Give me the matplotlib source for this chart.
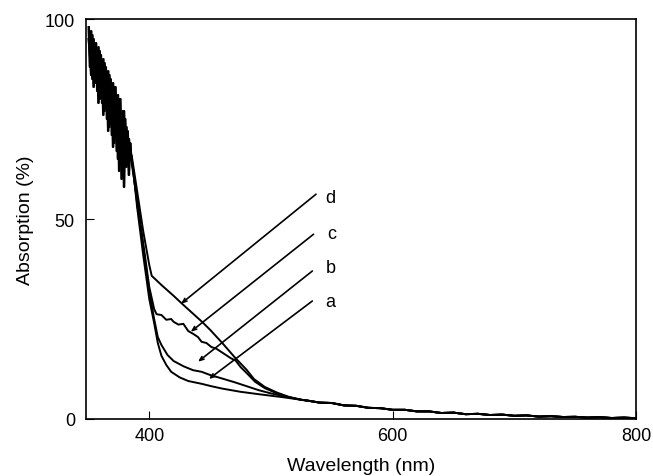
import numpy as np
import matplotlib
matplotlib.use('Agg')
import matplotlib.pyplot as plt

plt.rcParams['font.family'] = ['Liberation Sans', 'DejaVu Sans']

# noisy high-absorption region (two overlapping traces, interleaved sampling)
head_wl_1 = list(np.arange(350, 387, 1.0))
head_wl_2 = list(np.arange(350.5, 387, 1.0))
head_1 = [98, 88, 97, 85, 95, 84, 94, 82, 93, 80,
          91, 79, 90, 77, 88, 75, 87, 73, 85, 71,
          84, 69, 83, 67, 81, 62, 80, 60, 77, 58,
          75, 63, 72, 61, 69, 65, 63]
head_2 = [95, 92, 86, 96, 83, 93, 86, 91, 79, 92,
          82, 88, 76, 89, 80, 86, 72, 86, 76, 82,
          68, 83, 72, 79, 65, 80, 68, 76, 62, 77,
          66, 73, 64, 70, 66, 66, 64]

# middle part of each sample
d_wl = [390, 395, 400, 402, 410, 420, 427, 435, 443, 450, 460, 470, 480, 486, 495, 505, 515, 525]
d_val = [57, 47, 38.5, 35.8, 33.5, 30.8, 28.8, 26.6, 24.4, 22.3, 19, 15.5, 12.3, 10, 8, 6.6, 5.5, 4.8]

c_wl = [390, 395, 400, 404, 406, 410, 414, 418, 420, 424, 428, 432, 436, 440, 443, 447,
        451, 455, 459, 463, 467, 471, 475, 480, 487, 495, 505, 515, 525]
c_val = [55, 44, 33, 27.5, 26.2, 26, 24.8, 25, 24.3, 23.6, 23.8, 22, 21.3, 20.5, 19.3, 19,
         18, 17.6, 16.8, 16, 15.2, 14.6, 13, 11.5, 9.3, 7.7, 6.4, 5.4, 4.8]

b_wl = [390, 395, 400, 404, 407, 410, 415, 420, 428, 436, 443, 450, 459, 470, 480, 490, 500, 511, 525]
b_val = [54, 43, 32, 25, 20.5, 18.5, 16, 14.5, 13.2, 12.2, 11.8, 11, 10.2, 9.2, 8.2, 7.2, 6.4, 5.7, 4.8]

a_wl = [390, 395, 400, 404, 407, 410, 414, 418, 425, 432, 443, 451, 460, 475, 490, 511, 525]
a_val = [53, 41, 30, 24, 19, 15.8, 13.5, 11.8, 10.4, 9.5, 8.8, 8.2, 7.6, 6.8, 6.2, 5.4, 4.8]

# shared long-wavelength tail
tail_wl = [530, 540, 550, 560, 570, 580, 590, 600, 610, 620, 630, 640, 650, 660,
           670, 680, 690, 700, 710, 720, 730, 740, 750, 760, 770, 780, 790, 800]
tail_val = [4.6, 4.1, 4.0, 3.4, 3.3, 2.8, 2.7, 2.3, 2.3, 1.9, 1.9, 1.5, 1.6, 1.2,
            1.3, 1.0, 1.1, 0.8, 0.9, 0.6, 0.7, 0.5, 0.55, 0.35, 0.45, 0.25, 0.35, 0.2]

labels = ['d', 'c', 'b', 'a']
label_pos = [(545, 55.5), (546, 46.5), (545, 38), (545, 29.5)]
arrow_start = [(537, 56.2), (535, 46.2), (534, 37), (534, 29.5)]
arrow_end = [(426, 28.8), (434, 21.8), (440, 14.3), (449, 10)]

fig = plt.figure(figsize=(6.53, 4.77), dpi=100)
ax = fig.add_axes([0.1317, 0.1195, 0.9740 - 0.1317, 0.958 - 0.1195])

curves = [(head_wl_2, head_2, d_wl, d_val), (head_wl_1, head_1, c_wl, c_val),
          (head_wl_1, head_2, b_wl, b_val), (head_wl_2, head_1, a_wl, a_val)]
for hwl, head, wl, val in curves:
    x = hwl + wl + tail_wl
    y = head + val + tail_val
    ax.plot(x, y, color='black', lw=1.4)

for lab, pos, s, e in zip(labels, label_pos, arrow_start, arrow_end):
    ax.annotate('', xy=e, xytext=s,
                arrowprops=dict(arrowstyle='->,head_length=0.3,head_width=0.12',
                                lw=1.2, color='black', shrinkA=0, shrinkB=0))
    ax.text(pos[0], pos[1], lab, fontsize=13, ha='left', va='center')

ax.set_xlim(348, 800)
ax.set_ylim(0, 100)
ax.set_xticks([400, 600, 800])
ax.set_yticks([0, 50, 100])
ax.tick_params(direction='in', length=6, labelsize=13)
ax.tick_params(axis='y', pad=8)
ax.tick_params(axis='x', pad=6)
for sp in ax.spines.values():
    sp.set_linewidth(1.2)

ax.set_xlabel('Wavelength (nm)', fontsize=14, labelpad=9)
ax.set_ylabel('Absorption (%)', fontsize=14, labelpad=8)

fig.savefig('out.png', dpi=100)
